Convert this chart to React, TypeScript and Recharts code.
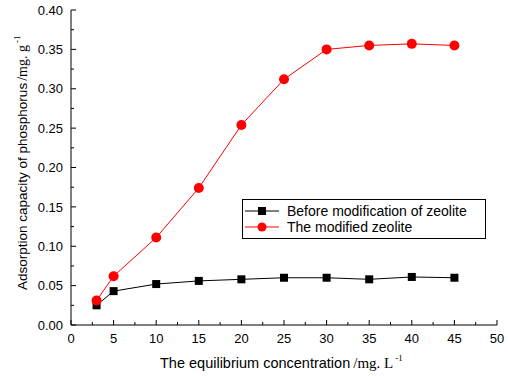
import { LineChart, Line, XAxis, YAxis, Legend } from 'recharts'

const concentrations = [3, 5, 10, 15, 20, 25, 30, 35, 40, 45]
const beforeModification = [0.025, 0.043, 0.052, 0.056, 0.058, 0.06, 0.06, 0.058, 0.061, 0.06]
const modifiedZeolite = [0.031, 0.062, 0.111, 0.174, 0.254, 0.312, 0.35, 0.355, 0.357, 0.355]

const xTicks = [0, 2.5, 5, 7.5, 10, 12.5, 15, 17.5, 20, 22.5, 25, 27.5, 30, 32.5, 35, 37.5, 40, 42.5, 45, 47.5, 50]
const yTicks = [0, 0.025, 0.05, 0.075, 0.1, 0.125, 0.15, 0.175, 0.2, 0.225, 0.25, 0.275, 0.3, 0.325, 0.35, 0.375, 0.4]

const seriesNames = ['Before modification of zeolite', 'The modified zeolite']

const SANS = '"Liberation Sans", Arial, sans-serif'
const SERIF = '"Liberation Serif", "DejaVu Serif", serif'

const isMajorX = (v: number) => Math.abs(v % 5) < 1e-6
const isMajorY = (v: number) => Math.abs(Math.round(v * 1000) % 50) < 1e-6

const MAJOR = 5
const MINOR = 3
const MARGIN = 8

const BottomTick = (props: any) => {
  const { x, y, payload } = props
  const major = isMajorX(payload.value)
  const edge = y - MARGIN
  return (
    <g>
      <line x1={x} x2={x} y1={edge} y2={edge - (major ? MAJOR : MINOR)} stroke="#000" />
      {major && (
        <text x={x} y={y} dy="0.75em" textAnchor="middle" fontSize={13} fontFamily={SANS} fill="#000">
          {payload.value}
        </text>
      )}
    </g>
  )
}

const TopTick = (props: any) => {
  const { x, y, payload } = props
  const major = isMajorX(payload.value)
  return <line x1={x} x2={x} y1={y} y2={y + (major ? MAJOR : MINOR)} stroke="#000" />
}

const LeftTick = (props: any) => {
  const { x, y, payload } = props
  const major = isMajorY(payload.value)
  const edge = x + MARGIN
  return (
    <g>
      <line x1={edge} x2={edge + (major ? MAJOR : MINOR)} y1={y} y2={y} stroke="#000" />
      {major && (
        <text x={x} y={y} dy="0.36em" textAnchor="end" fontSize={13} fontFamily={SANS} fill="#000">
          {payload.value.toFixed(2)}
        </text>
      )}
    </g>
  )
}

const RightTick = (props: any) => {
  const { x, y, payload } = props
  const major = isMajorY(payload.value)
  return <line x1={x} x2={x - (major ? MAJOR : MINOR)} y1={y} y2={y} stroke="#000" />
}

const SquareDot = (props: any) => {
  const { cx, cy } = props
  if (cx == null || cy == null) return null
  return <rect x={cx - 4} y={cy - 4} width={8} height={8} fill="#000" />
}

const YLabel = (props: any) => {
  const { viewBox } = props
  const cx = viewBox.x + 11
  const cy = viewBox.y + viewBox.height - 35
  return (
    <text x={cx} y={cy} transform={`rotate(-90 ${cx} ${cy})`} textAnchor="start" dy="0.35em" fontSize={13.5} fill="#000">
      <tspan fontFamily={SANS}>Adsorption capacity of phosphorus</tspan>
      <tspan fontFamily={SERIF} fontSize={14} dx={2}>/mg. g</tspan>
      <tspan fontFamily={SERIF} fontSize={9} dx={2} dy={-7}>-1</tspan>
    </text>
  )
}

const XLabel = (props: any) => {
  const { viewBox } = props
  const sx = viewBox.x + 89
  const sy = viewBox.y + 43
  return (
    <text x={sx} y={sy} textAnchor="start" fontSize={14.5} fill="#000">
      <tspan fontFamily={SANS}>The equilibrium concentration</tspan>
      <tspan fontFamily={SERIF} fontSize={15} dx={3}>/mg. L</tspan>
      <tspan fontFamily={SERIF} fontSize={9} dx={2} dy={-7}>-1</tspan>
    </text>
  )
}

const LegendBox = () => (
  <div
    style={{
      border: '1px solid #000',
      background: '#fff',
      width: 240,
      padding: '3px 0 3px 2px',
      fontFamily: SANS,
      fontSize: 14,
      lineHeight: '16px',
      color: '#000',
    }}
  >
    {seriesNames.map((name, i) => (
      <div key={name} style={{ display: 'flex', alignItems: 'center' }}>
        <svg width={36} height={16} style={{ marginRight: 6 }}>
          <line x1={0} x2={34} y1={8} y2={8} stroke={i === 0 ? '#000' : '#ff0000'} />
          {i === 0 ? (
            <rect x={13} y={4} width={8} height={8} fill="#000" />
          ) : (
            <circle cx={17} cy={8} r={4.5} fill="#ff0000" />
          )}
        </svg>
        <span>{name}</span>
      </div>
    ))}
  </div>
)

export default function App() {
  const data = concentrations.map((x, i) => ({
    x,
    before: beforeModification[i],
    modified: modifiedZeolite[i],
  }))

  return (
    <div style={{ position: 'absolute', left: 0, top: 0, width: 508, height: 376, background: '#fff' }}>
      <LineChart width={508} height={376} data={data} margin={{ top: 10, right: 11, left: 11, bottom: 21 }}>
        <XAxis
          dataKey="x"
          type="number"
          domain={[0, 50]}
          ticks={xTicks}
          interval={0}
          height={30}
          tickSize={0}
          tickMargin={MARGIN}
          tick={<BottomTick />}
          axisLine={{ stroke: '#000' }}
          tickLine={false}
          label={<XLabel />}
        />
        <XAxis
          xAxisId="top"
          orientation="top"
          dataKey="x"
          type="number"
          domain={[0, 50]}
          ticks={xTicks}
          interval={0}
          height={0}
          tickSize={0}
          tickMargin={0}
          tick={<TopTick />}
          axisLine={{ stroke: '#000' }}
          tickLine={false}
        />
        <YAxis
          type="number"
          domain={[0, 0.4]}
          ticks={yTicks}
          interval={0}
          width={60}
          tickSize={0}
          tickMargin={MARGIN}
          tick={<LeftTick />}
          axisLine={{ stroke: '#000' }}
          tickLine={false}
          label={<YLabel />}
        />
        <YAxis
          yAxisId="right"
          orientation="right"
          type="number"
          domain={[0, 0.4]}
          ticks={yTicks}
          interval={0}
          width={0}
          tickSize={0}
          tickMargin={0}
          tick={<RightTick />}
          axisLine={{ stroke: '#000' }}
          tickLine={false}
        />
        <Line
          dataKey="before"
          name={seriesNames[0]}
          stroke="#000"
          strokeWidth={1}
          dot={<SquareDot />}
          activeDot={false}
          isAnimationActive={false}
        />
        <Line
          dataKey="modified"
          name={seriesNames[1]}
          stroke="#ff0000"
          strokeWidth={1}
          dot={{ r: 5, fill: '#ff0000', stroke: '#ff0000', strokeWidth: 0 }}
          activeDot={false}
          isAnimationActive={false}
        />
        <Legend
          layout="horizontal"
          verticalAlign="middle"
          align="center"
          content={<LegendBox />}
          wrapperStyle={{ position: 'absolute', left: 242, top: 199, width: 'auto' }}
        />
      </LineChart>
    </div>
  )
}
